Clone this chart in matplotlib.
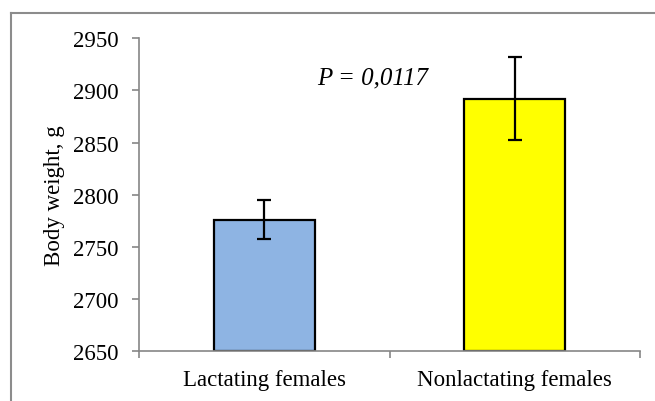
import numpy as np
import matplotlib.pyplot as plt
from matplotlib.lines import Line2D

# data
groups = ["Lactating females", "Nonlactating females"]
means = [2776, 2892]
errs = [19, 40]
colors = ["#8EB4E3", "#FFFF00"]
yticks = [2650, 2700, 2750, 2800, 2850, 2900, 2950]
p_text = "P = 0,0117"

plt.rcParams["font.family"] = ["Liberation Serif", "DejaVu Serif"]
GRAY = "#868686"

fig = plt.figure(figsize=(6.55, 4.02), dpi=100)
ax = fig.add_axes([139 / 655, 1 - 352 / 402, 501 / 655, (352 - 39.3) / 402])

x = np.arange(len(groups))
ax.bar(x, [m - yticks[0] for m in means], bottom=yticks[0], width=0.405,
       color=colors, edgecolor="black", linewidth=1.6, zorder=2)
ax.errorbar(x, means, yerr=errs, fmt="none", ecolor="black",
            elinewidth=1.6, capsize=5, capthick=1.6, zorder=3)

ax.set_xlim(-0.5, 1.5)
ax.set_ylim(yticks[0], yticks[-1])
ax.set_yticks(yticks)
ax.set_xticks(x)
ax.set_xticklabels(groups)
ax.set_xticks([-0.5, 0.5, 1.5], minor=True)

ax.tick_params(axis="y", direction="out", length=5, width=1.2, color=GRAY,
               labelsize=16.5, pad=10)
ax.tick_params(axis="x", which="major", length=0, labelsize=16.5, pad=13)
ax.tick_params(axis="x", which="minor", direction="out", length=5, width=1.2, color=GRAY)

for s in ["top", "right"]:
    ax.spines[s].set_visible(False)
for s in ["left", "bottom"]:
    ax.spines[s].set_color(GRAY)
    ax.spines[s].set_linewidth(1.2)

ax.set_ylabel("Body weight, g", fontsize=16.5)
ax.yaxis.set_label_coords(-0.148, 0.5)

ax.text(0.434, 2912, p_text, fontsize=18, style="italic", ha="center", va="center")

# outer frame (only top and left visible in the crop)
fig.add_artist(Line2D([11 / 655, 1], [1 - 14 / 402, 1 - 14 / 402], color="#8c8c8c", lw=1.5,
                      transform=fig.transFigure))
fig.add_artist(Line2D([11 / 655, 11 / 655], [0, 1 - 14 / 402], color="#8c8c8c", lw=1.5,
                      transform=fig.transFigure))

fig.savefig("out.png", dpi=100)
